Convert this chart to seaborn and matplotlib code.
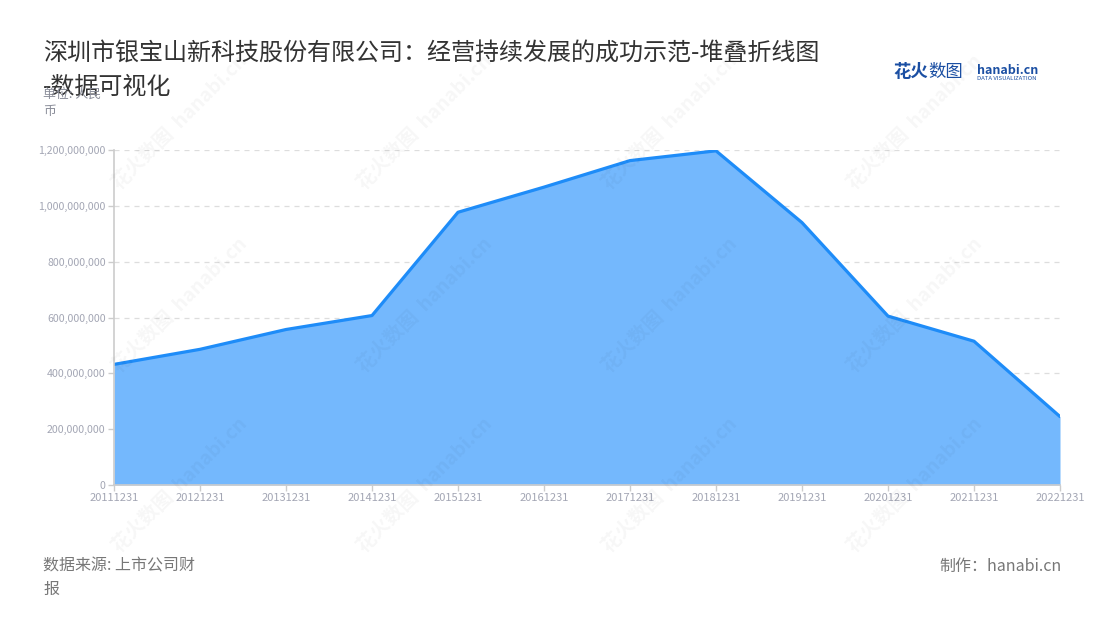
import matplotlib
matplotlib.use("Agg")
import matplotlib.pyplot as plt
from matplotlib.ticker import FuncFormatter
import seaborn as sns
import pandas as pd

# 数据（单位：人民币）
years = ["20111231", "20121231", "20131231", "20141231", "20151231", "20161231",
         "20171231", "20181231", "20191231", "20201231", "20211231", "20221231"]
values = [432e6, 486e6, 557e6, 607e6, 977e6, 1067e6,
          1162e6, 1197e6, 940e6, 605e6, 515e6, 245e6]

title = "深圳市银宝山新科技股份有限公司：经营持续发展的成功示范-堆叠折线图\n-数据可视化"
unit = "单位: 人民\n币"
source = "数据来源: 上市公司财\n报"
maker = "制作：hanabi.cn"

df = pd.DataFrame({"year": years, "value": values})

sns.set_theme(style="white")
plt.rcParams['font.family'] = ['Noto Sans CJK SC', 'DejaVu Sans']

fig = plt.figure(figsize=(11, 6.2), dpi=100)
ax = fig.add_axes([114 / 1100, 1 - 485 / 620, (1060 - 114) / 1100, (485 - 150) / 620])

ax.fill_between(df["year"], 0, df["value"], color="#74b8fd", linewidth=0, zorder=2)
sns.lineplot(data=df, x="year", y="value", ax=ax, color="#1e8cf8", linewidth=2.3, zorder=3)

ax.set_xlim(0, len(years) - 1)
ax.set_ylim(0, 1.2e9)
ax.set_yticks([0, 2e8, 4e8, 6e8, 8e8, 1e9, 1.2e9])
ax.yaxis.set_major_formatter(FuncFormatter(lambda v, p: f"{int(v):,}"))
ax.set_xlabel("")
ax.set_ylabel("")

ax.grid(axis="y", color="#dddddd", linestyle=(0, (4, 4)), linewidth=0.9, zorder=1)
ax.set_axisbelow(True)
for s in ["top", "right"]:
    ax.spines[s].set_visible(False)
for s in ["left", "bottom"]:
    ax.spines[s].set_color("#cccccc")
    ax.spines[s].set_linewidth(1.2)
    ax.spines[s].set_zorder(4)
ax.tick_params(axis="both", colors="#cccccc", labelcolor="#a3a6b4", labelsize=8,
               length=4, width=1, direction="out", pad=2, left=True, bottom=True)
ax.tick_params(axis="y", labelsize=7.6)

# 水印
for cx in [180, 425, 670, 915]:
    for cy in [122, 305, 485]:
        fig.text(cx / 1100, 1 - cy / 620, "花火数图  hanabi.cn", rotation=45,
                 ha="center", va="center", fontsize=14, fontweight="bold",
                 color="#000000", alpha=0.035, zorder=10)

# 标题与说明
fig.text(43 / 1100, 1 - 41 / 620, title, ha="left", va="top", fontsize=17.3,
         color="#333333", linespacing=1.36)
fig.text(43 / 1100, 1 - 88 / 620, unit, ha="left", va="top", fontsize=9.3,
         color="#8a8d99", linespacing=1.45)

# 标志
fig.text(893 / 1100, 1 - 72 / 620, "花火", ha="left", va="center", fontsize=12.5,
         fontweight="bold", color="#1b4fa3")
fig.text(928 / 1100, 1 - 72 / 620, "数图", ha="left", va="center", fontsize=12.5,
         color="#1b4fa3")
fig.text(977 / 1100, 1 - 70 / 620, "hanabi.cn", ha="left", va="center", fontsize=9,
         fontweight="bold", color="#1b4fa3")
fig.text(977 / 1100, 1 - 79 / 620, "DATA VISUALIZATION", ha="left", va="center",
         fontsize=4.3, color="#1b4fa3")

# 页脚
fig.text(43 / 1100, 1 - 558 / 620, source, ha="left", va="top", fontsize=11.5,
         color="#777777", linespacing=1.45)
fig.text(1062 / 1100, 1 - 558 / 620, maker, ha="right", va="top", fontsize=11.5,
         color="#777777")

fig.savefig("out.png", dpi=100, facecolor="white")
